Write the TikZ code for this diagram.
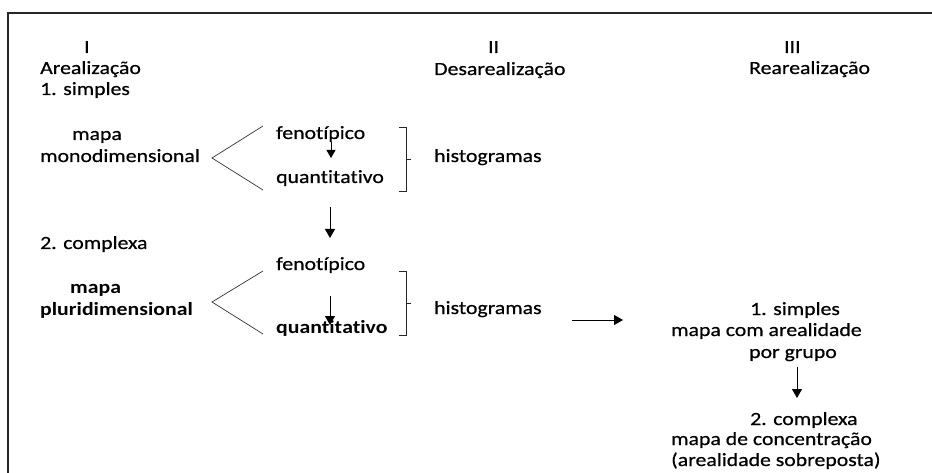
\documentclass[tikz,border=0pt]{standalone}
\usepackage{fontspec}
\setmainfont[FakeStretch=1.17,Ligatures=NoCommon,RawFeature={-liga;-clig;-calt},UprightFeatures={FakeBold=0.6}]{Carlito}
\newcommand\nolig{\kern0pt }
\usetikzlibrary{arrows.meta}
\begin{document}
\begin{tikzpicture}[x=1pt,y=-1pt,
  txt/.style={inner sep=0pt,anchor=base west,font=\fontsize{18.6}{22}\selectfont},
  bld/.style={txt,font=\fontsize{18.6}{22}\selectfont\bfseries},
  conn/.style={line width=0.9pt,-{Triangle[length=9pt,width=10pt]}},
  smallconn/.style={line width=0.9pt,-{Triangle[length=8pt,width=9pt]}},
  branch/.style={line width=0.7pt,black!80},
  brack/.style={line width=0.8pt,black!85},
  frame/.style={line width=2pt,black!85}]
\useasboundingbox (0,0) rectangle (932,473);
% frame (left and top edges visible)
\draw[frame] (8,480) -- (8,13) -- (940,13);
% headers
\node[txt] (h1) at (84,53) {I};
\node[txt] (h1t) at (40,74) {Arealização};
\node[txt] (s1) at (40,95) {1. simples};
\node[txt] (h2) at (488,53) {II};
\node[txt] (h2t) at (434,75) {Desarealização};
\node[txt] (h3) at (784,53) {III};
\node[txt] (h3t) at (749,74) {Rearealização};
% group 1
\node[txt] (m1a) at (72,140) {mapa};
\node[txt] (m1b) at (40,162) {monodimensional};
\node[txt] (f1) at (276,139) {fenotípico};
\node[txt] (q1) at (276,183) {quant\nolig it\nolig ativo};
\node[txt] (hist1) at (434,162) {histogramas};
% group 2
\node[txt] (s2) at (40,249) {2. complexa};
\node[bld] (m2a) at (70,293) {mapa};
\node[bld] (m2b) at (40,316) {pluridimensional};
\node[txt] (f2) at (276,270) {fenotípico};
\node[bld] (q2) at (276,333) {quant\nolig it\nolig ativo};
\node[txt] (hist2) at (434,314) {histogramas};
% column III
\node[txt] (r1) at (750,315) {1. simples};
\node[txt] (r2) at (671,336) {mapa com arealidade};
\node[txt] (r3) at (749,358) {por grupo};
\node[txt] (r4) at (750,425) {2. complexa};
\node[txt] (r5) at (671,445) {mapa de concentração};
\node[txt] (r6) at (671,466) {(arealidade sobreposta)};
% branches
\coordinate (v1) at (212,158);
\coordinate (v1t) at (263,126);
\coordinate (v1b) at (263,190);
\draw[branch] (v1t) -- (v1) -- (v1b);
\coordinate (v2) at (212,302);
\coordinate (v2t) at (263,271);
\coordinate (v2b) at (263,334);
\draw[branch] (v2t) -- (v2) -- (v2b);
% brackets
\draw[brack] (399,127) -- (406,127) -- (406,191) -- (399,191);
\draw[brack] (406,159) -- (411,159);
\draw[brack] (399,271) -- (406,271) -- (406,335) -- (399,335);
\draw[brack] (406,303) -- (411,303);
% arrows
\coordinate (a1s) at (331,142);
\coordinate (a1e) at (331,158);
\draw[smallconn] (a1s) -- (a1e);
\coordinate (a2s) at (330,207);
\coordinate (a2e) at (330,238);
\draw[conn] (a2s) -- (a2e);
\coordinate (a3s) at (330,296);
\coordinate (a3e) at (330,325);
\draw[conn] (a3s) -- (a3e);
\coordinate (a4s) at (572,320);
\coordinate (a4e) at (623,320);
\draw[conn] (a4s) -- (a4e);
\coordinate (a5s) at (797,367);
\coordinate (a5e) at (797,398);
\draw[conn] (a5s) -- (a5e);
\end{tikzpicture}
\end{document}
